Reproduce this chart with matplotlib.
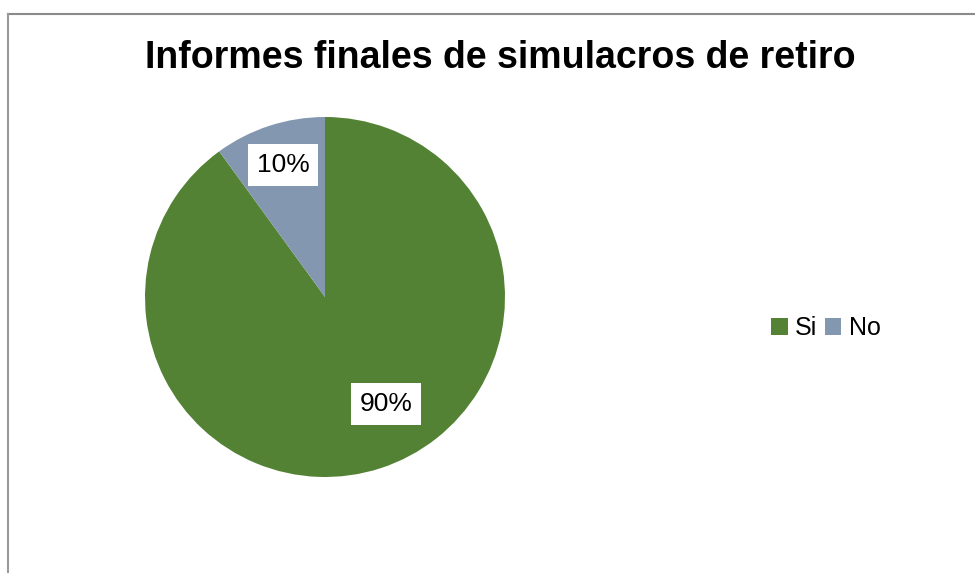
import matplotlib.pyplot as plt
from matplotlib.lines import Line2D

# ============================================================
# DANE
# ============================================================
categories = ["Si", "No"]
values = [90, 10]
colors = ["#548235", "#8497B0"]
title = "Informes finales de simulacros de retiro"

plt.rcParams["font.family"] = ["Liberation Sans", "DejaVu Sans"]

fig = plt.figure(figsize=(9.75, 5.73), dpi=100)
fig.patch.set_facecolor("white")

# ramka wykresu (jak w Excelu)
fig.add_artist(Line2D([8 / 975, 1.0], [1 - 14 / 573, 1 - 14 / 573], color="#8a8a8a", lw=1.5,
                      transform=fig.transFigure))
fig.add_artist(Line2D([8 / 975, 8 / 975], [1 - 14 / 573, 0.0], color="#9a9a9a", lw=1.5,
                      transform=fig.transFigure))

fig.text(500 / 975, 1 - 58 / 573, title, ha="center", va="center",
         fontsize=27, fontweight="bold", color="black")

ax = fig.add_axes([145 / 975, 96 / 573, 360 / 975, 360 / 573])
wedges, texts, autotexts = ax.pie(values, colors=colors, startangle=90, counterclock=False,
                                  autopct="%1.0f%%", pctdistance=0.77,
                                  wedgeprops=dict(linewidth=0),
                                  textprops=dict(fontsize=19, color="black"))
for t in autotexts:
    t.set_bbox(dict(facecolor="white", edgecolor="none", pad=6.5))
# etykieta 90% przesunięta jak w oryginale
autotexts[0].set_position((0.339, -0.592))
autotexts[1].set_position((-0.233, 0.731))
ax.set_xlim(-1, 1)
ax.set_ylim(-1, 1)
ax.set_aspect("equal")
ax.axis("off")

fig.legend(wedges, categories, loc="center", bbox_to_anchor=(826 / 975, 1 - 328 / 573),
           ncol=2, frameon=False, fontsize=18, handlelength=0.65, handleheight=0.65,
           handletextpad=0.3, columnspacing=0.3)

fig.savefig("out.png", dpi=100)
